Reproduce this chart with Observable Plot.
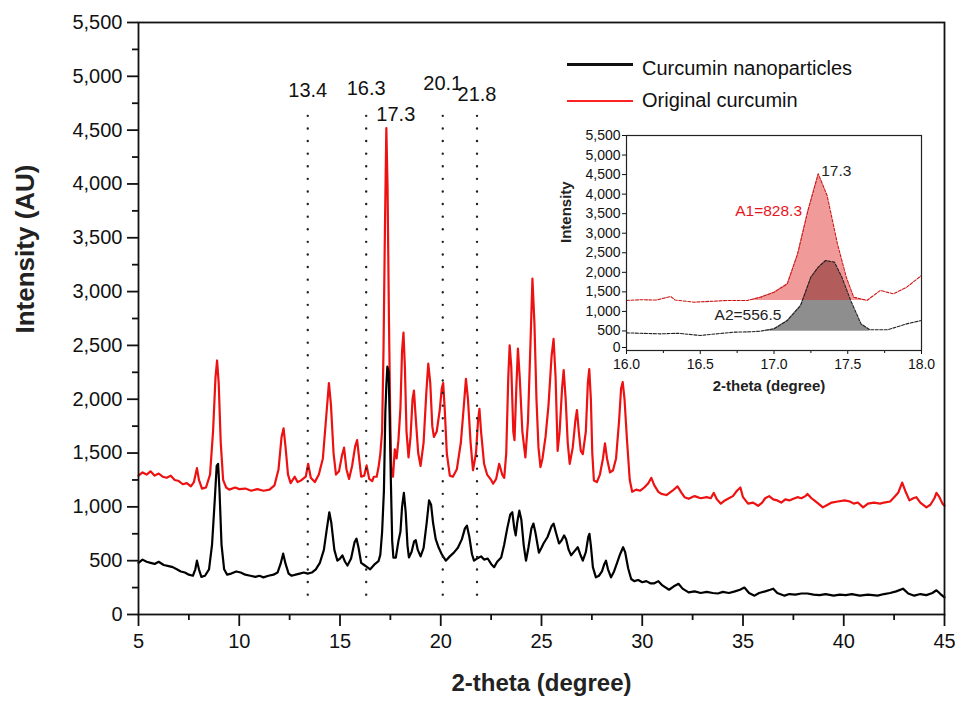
<!DOCTYPE html>
<html>
<head>
<meta charset="utf-8">
<script src="https://cdn.jsdelivr.net/npm/d3@7"></script>
<script src="https://cdn.jsdelivr.net/npm/@observablehq/plot@0.6"></script>
<style>
  html, body { margin: 0; padding: 0; background: #fff; }
  #wrap { position: relative; width: 955px; height: 702px; overflow: hidden; font-family: "Liberation Sans", Arial, sans-serif; color: #111; }
  #wrap svg { display: block; }
  #inset { position: absolute; left: 555px; top: 120px; }
  .leg-line { position: absolute; }
  .leg-text { position: absolute; font-size: 20px; line-height: 24px; white-space: nowrap; }
</style>
</head>
<body>
<div id="wrap">
  <div id="main"></div>
  <div id="inset"></div>
  <div class="leg-line" style="left:567px;top:63px;width:66px;height:3px;background:#111;"></div>
  <div class="leg-text" style="left:642px;top:56px;">Curcumin nanoparticles</div>
  <div class="leg-line" style="left:567px;top:100px;width:66px;height:2px;background:#f22;"></div>
  <div class="leg-text" style="left:642px;top:88px;">Original curcumin</div>
</div>
<script>
// ---------- data (2-theta in degree, intensity in AU) ----------
const originalCurcumin = [
  [5.0,1290],[5.2,1320],[5.4,1300],[5.6,1330],[5.8,1290],[6.0,1310],[6.2,1280],[6.4,1270],[6.6,1290],[6.8,1250],
  [7.0,1240],[7.2,1210],[7.4,1220],[7.6,1190],[7.75,1230],[7.9,1360],[8.0,1250],[8.15,1170],[8.35,1180],[8.55,1300],
  [8.7,1700],[8.82,2200],[8.9,2360],[8.98,2150],[9.08,1600],[9.2,1250],[9.35,1180],[9.5,1160],[9.8,1180],[10.0,1165],
  [10.3,1170],[10.6,1150],[10.9,1165],[11.2,1150],[11.5,1160],[11.75,1200],[11.95,1350],[12.1,1650],[12.2,1730],[12.3,1550],
  [12.42,1300],[12.55,1220],[12.75,1280],[12.9,1230],[13.1,1250],[13.3,1280],[13.42,1400],[13.55,1270],[13.75,1230],[13.95,1300],
  [14.15,1450],[14.3,1800],[14.45,2150],[14.55,1950],[14.68,1500],[14.8,1300],[14.95,1330],[15.1,1480],[15.2,1550],[15.32,1350],
  [15.45,1260],[15.6,1380],[15.75,1560],[15.85,1620],[15.95,1450],[16.05,1280],[16.2,1290],[16.32,1385],[16.45,1260],[16.6,1240],
  [16.68,1280],[16.82,1280],[16.91,1365],[17.0,1490],[17.09,1705],[17.16,2470],[17.23,3580],[17.3,4520],[17.36,3965],[17.43,2730],
  [17.49,1875],[17.54,1365],[17.63,1280],[17.72,1535],[17.81,1450],[17.9,1620],[18.0,1920],[18.08,2450],[18.15,2620],[18.22,2300],
  [18.3,1700],[18.4,1460],[18.5,1650],[18.6,2000],[18.67,2080],[18.75,1850],[18.88,1500],[19.0,1380],[19.15,1600],[19.28,2050],
  [19.38,2330],[19.48,2150],[19.58,1750],[19.66,1650],[19.8,1700],[19.95,1900],[20.05,2100],[20.12,2150],[20.2,1900],[20.3,1500],
  [20.45,1290],[20.6,1280],[20.8,1350],[21.0,1600],[21.15,1950],[21.25,2190],[21.35,2000],[21.48,1600],[21.6,1340],[21.75,1500],
  [21.85,1800],[21.92,1910],[22.0,1700],[22.15,1400],[22.3,1300],[22.5,1250],[22.6,1215],[22.75,1260],[22.9,1400],[23.05,1300],
  [23.15,1270],[23.25,1500],[23.35,2200],[23.42,2500],[23.5,2300],[23.6,1700],[23.66,1620],[23.75,2100],[23.83,2470],[23.92,2200],
  [24.05,1700],[24.2,1460],[24.33,1800],[24.45,2500],[24.55,3120],[24.65,2700],[24.75,2000],[24.85,1550],[24.95,1370],[25.05,1450],
  [25.2,1650],[25.35,1950],[25.5,2400],[25.6,2560],[25.7,2200],[25.8,1520],[25.9,1700],[26.02,2100],[26.1,2270],[26.2,2000],
  [26.3,1600],[26.4,1400],[26.55,1550],[26.68,1800],[26.76,1900],[26.85,1700],[26.95,1520],[27.05,1490],[27.2,1700],[27.3,2150],
  [27.37,2280],[27.45,2000],[27.52,1500],[27.6,1245],[27.75,1230],[27.9,1300],[28.05,1450],[28.15,1590],[28.25,1450],[28.4,1320],
  [28.55,1340],[28.7,1450],[28.85,1800],[28.95,2100],[29.03,2160],[29.12,2000],[29.25,1600],[29.38,1250],[29.5,1140],[29.7,1160],
  [29.9,1150],[30.1,1180],[30.3,1220],[30.45,1270],[30.6,1200],[30.8,1140],[30.95,1120],[31.2,1110],[31.5,1150],[31.75,1190],
  [31.95,1130],[32.1,1090],[32.3,1075],[32.6,1100],[32.9,1080],[33.2,1090],[33.4,1080],[33.55,1130],[33.7,1070],[33.9,1030],
  [34.1,1060],[34.3,1080],[34.5,1100],[34.7,1150],[34.87,1180],[35.0,1090],[35.25,1030],[35.5,1040],[35.75,1010],[35.95,1040],
  [36.1,1080],[36.3,1100],[36.5,1070],[36.7,1060],[36.9,1040],[37.1,1070],[37.3,1060],[37.5,1075],[37.7,1090],[37.9,1080],
  [38.1,1100],[38.2,1120],[38.4,1080],[38.6,1050],[38.8,1020],[38.96,995],[39.2,1020],[39.4,1040],[39.7,1050],[40.05,1060],
  [40.3,1050],[40.5,1030],[40.7,1040],[40.96,995],[41.2,1030],[41.5,1040],[41.8,1030],[42.0,1040],[42.3,1050],[42.5,1090],
  [42.7,1130],[42.9,1225],[43.05,1150],[43.26,1060],[43.45,1080],[43.6,1090],[43.8,1040],[44.1,995],[44.3,1020],[44.5,1080],
  [44.6,1130],[44.75,1090],[44.9,1030],[45.0,1010]
];
const curcuminNanoparticles = [
  [5.0,480],[5.2,510],[5.4,490],[5.6,480],[5.8,470],[6.0,490],[6.25,460],[6.5,450],[6.7,440],[6.9,420],
  [7.1,400],[7.3,390],[7.5,370],[7.7,360],[7.82,420],[7.9,500],[8.0,420],[8.12,350],[8.3,360],[8.5,420],
  [8.65,650],[8.78,1050],[8.88,1380],[8.95,1400],[9.02,1150],[9.12,650],[9.25,420],[9.4,370],[9.6,380],[9.85,400],
  [10.07,390],[10.3,370],[10.55,360],[10.8,350],[11.0,360],[11.2,345],[11.45,360],[11.7,370],[11.9,390],[12.05,470],
  [12.18,565],[12.3,470],[12.45,380],[12.6,360],[12.8,370],[13.0,380],[13.2,390],[13.4,380],[13.6,390],[13.8,420],
  [14.0,480],[14.2,600],[14.35,800],[14.47,950],[14.57,850],[14.72,600],[14.87,500],[15.0,520],[15.12,550],[15.25,490],
  [15.37,455],[15.55,520],[15.72,670],[15.82,705],[15.92,620],[16.05,480],[16.2,460],[16.35,440],[16.5,420],[16.73,469],
  [16.91,495],[17.0,554],[17.09,767],[17.18,1151],[17.25,1876],[17.3,2132],[17.35,2302],[17.41,2260],[17.46,1876],[17.52,1279],
  [17.59,682],[17.65,529],[17.77,529],[17.9,682],[18.0,770],[18.08,1000],[18.17,1130],[18.26,950],[18.35,640],[18.42,530],
  [18.55,580],[18.68,680],[18.76,690],[18.86,600],[19.0,540],[19.15,620],[19.3,850],[19.42,1060],[19.52,1020],[19.62,850],
  [19.75,700],[19.9,620],[20.05,560],[20.25,500],[20.45,540],[20.65,575],[20.85,620],[21.05,700],[21.2,800],[21.3,825],
  [21.42,720],[21.55,560],[21.65,500],[21.8,520],[22.0,540],[22.15,510],[22.33,520],[22.5,470],[22.65,440],[22.8,490],
  [23.0,530],[23.15,650],[23.3,800],[23.45,930],[23.55,950],[23.65,800],[23.72,735],[23.8,860],[23.9,965],[24.0,880],
  [24.12,640],[24.23,500],[24.35,620],[24.5,800],[24.6,845],[24.7,760],[24.87,575],[25.0,620],[25.1,660],[25.3,720],
  [25.5,820],[25.6,845],[25.72,760],[25.87,660],[26.0,690],[26.12,735],[26.22,700],[26.35,600],[26.47,550],[26.6,580],
  [26.8,625],[26.92,560],[27.05,500],[27.2,580],[27.32,720],[27.38,750],[27.45,640],[27.55,440],[27.7,345],[27.85,360],
  [28.0,400],[28.12,470],[28.2,500],[28.3,420],[28.45,345],[28.6,400],[28.75,480],[28.9,560],[29.05,625],[29.15,580],
  [29.3,430],[29.45,330],[29.6,310],[29.8,320],[30.0,300],[30.2,310],[30.4,290],[30.6,290],[30.8,310],[31.0,270],
  [31.33,230],[31.55,260],[31.8,285],[32.0,240],[32.3,205],[32.6,215],[32.9,200],[33.2,210],[33.5,200],[33.75,195],
  [34.0,210],[34.3,200],[34.6,215],[34.85,230],[35.07,250],[35.3,200],[35.57,175],[35.8,200],[36.1,215],[36.35,230],
  [36.5,240],[36.7,200],[37.06,175],[37.3,190],[37.6,185],[37.9,195],[38.2,195],[38.5,185],[38.8,180],[39.1,190],
  [39.5,175],[39.8,185],[40.1,180],[40.4,190],[40.8,175],[41.2,185],[41.68,175],[42.0,190],[42.3,200],[42.6,215],
  [42.94,240],[43.2,195],[43.5,175],[43.8,190],[44.1,180],[44.4,200],[44.6,225],[44.8,190],[45.0,160]
];
// inset (zoom on the 17.3 peak)
const insetOriginal = [
  [16.0,1280],[16.1,1300],[16.2,1290],[16.3,1380],[16.33,1290],[16.46,1236],[16.58,1260],[16.68,1280],[16.82,1280],[16.91,1365],
  [17.0,1490],[17.09,1705],[17.16,2470],[17.23,3580],[17.3,4520],[17.36,3965],[17.43,2730],[17.49,1875],[17.54,1365],[17.63,1280],
  [17.72,1535],[17.81,1450],[17.9,1620],[18.0,1920]
];
const insetNano = [
  [16.0,452],[16.1,440],[16.23,426],[16.35,440],[16.5,384],[16.62,430],[16.73,469],[16.85,480],[16.91,495],[17.0,554],
  [17.09,767],[17.18,1151],[17.25,1876],[17.3,2132],[17.35,2302],[17.41,2260],[17.46,1876],[17.52,1279],[17.59,682],[17.65,529],
  [17.77,529],[17.9,682],[18.0,767]
];
const peakLines = [13.4, 16.3, 20.1, 21.8];
const mainPeak = 17.3;
const areaLabels = ["A1=828.3", "A2=556.5"];
const legendNames = ["Curcumin nanoparticles", "Original curcumin"];

const xTicks = [5, 10, 15, 20, 25, 30, 35, 40, 45];
const xMinor = [7.5, 12.5, 17.5, 22.5, 27.5, 32.5, 37.5, 42.5];
const yTicks = d3.range(0, 5501, 500);
const yMinor = d3.range(250, 5500, 500);
const insetXTicks = [16.0, 16.5, 17.0, 17.5, 18.0];
const insetXMinor = [16.25, 16.75, 17.25, 17.75];

const FONT = "'Liberation Sans', Arial, Helvetica, sans-serif";
const X = d => d[0], Y = d => d[1];

// ---------- main chart ----------
const main = Plot.plot({
  width: 955, height: 702,
  marginLeft: 138, marginRight: 11, marginTop: 22, marginBottom: 88,
  style: {fontFamily: FONT, fontSize: "20px", color: "#111", background: "transparent", overflow: "visible"},
  x: {domain: [5, 45]},
  y: {domain: [0, 5500]},
  marks: [
    Plot.line(originalCurcumin, {x: X, y: Y, stroke: "#ee1111", strokeWidth: 2.2, strokeLinejoin: "round"}),
    Plot.line(curcuminNanoparticles, {x: X, y: Y, stroke: "#000", strokeWidth: 2.2, strokeLinejoin: "round"}),
    Plot.ruleX(peakLines, {x: d => d, y1: 180, y2: 4720, stroke: "#222", strokeWidth: 2.4, strokeLinecap: "round", strokeDasharray: "0,12.6"}),
    Plot.text(peakLines, {x: d => d, y: (d, i) => [4870, 4890, 4935, 4830][i], text: d => d.toFixed(1), fontSize: 20, fill: "#111"}),
    Plot.text([mainPeak], {x: d => d, y: 4640, text: d => d.toFixed(1), textAnchor: "start", dx: -10, fontSize: 20, fill: "#111"}),
    Plot.axisY({ticks: yTicks, tickSize: 11, tickPadding: 5, tickFormat: d3.format(","), label: null, strokeWidth: 1.8, fontSize: 20}),
    Plot.axisY({ticks: yMinor, tickSize: 6, tickFormat: () => "", label: null, strokeWidth: 1.8}),
    Plot.axisX({ticks: xTicks, tickSize: 12, tickPadding: 7, tickFormat: d => String(d), label: null, strokeWidth: 1.8, fontSize: 20}),
    Plot.axisX({ticks: xMinor, tickSize: 6, tickFormat: () => "", label: null, strokeWidth: 1.8}),
    Plot.frame({stroke: "#111", strokeWidth: 1.8}),
    Plot.text(["Intensity (AU)"], {frameAnchor: "left", rotate: -90, dx: -113, dy: 15, text: d => d, fontSize: 26, fontWeight: "bold", fill: "#222", ariaLabel: "ytitle"}),
    Plot.text(["2-theta (degree)"], {frameAnchor: "bottom", dx: 0, dy: 76, text: d => d, fontSize: 24, fontWeight: "bold", fill: "#222", ariaLabel: "xtitle"})
  ]
});
document.getElementById("main").appendChild(main);
d3.select(main).select('g[aria-label="ytitle"] text').attr("textLength", 203).attr("lengthAdjust", "spacingAndGlyphs");
d3.select(main).select('g[aria-label="xtitle"] text').attr("textLength", 197).attr("lengthAdjust", "spacingAndGlyphs");

// ---------- inset ----------
const inset = Plot.plot({
  width: 380, height: 280,
  marginLeft: 71, marginRight: 14, marginTop: 15, marginBottom: 50,
  style: {fontFamily: FONT, fontSize: "14px", color: "#111", background: "transparent", overflow: "visible"},
  x: {domain: [16, 18]},
  y: {domain: [0, 5500]},
  marks: [
    Plot.areaY(insetNano, {filter: d => d[0] >= 16.91 && d[0] <= 17.65, x: X, y1: 495, y2: Y, fill: "#888", fillOpacity: 0.95}),
    Plot.areaY(insetOriginal, {filter: d => d[0] >= 16.82 && d[0] <= 17.63, x: X, y1: 1280, y2: d => Math.max(d[1], 1280), fill: "#e02020", fillOpacity: 0.45}),
    Plot.line(insetOriginal, {x: X, y: Y, stroke: "#cc1515", strokeWidth: 1.1, strokeDasharray: "3,1.5"}),
    Plot.line(insetNano, {x: X, y: Y, stroke: "#222", strokeWidth: 1.1, strokeDasharray: "3,1.5"}),
    Plot.text([mainPeak], {x: d => d + 0.02, y: 4600, text: d => d.toFixed(1), textAnchor: "start", fontSize: 15.5, fill: "#222"}),
    Plot.text([areaLabels[0]], {x: 17.19, y: 3580, text: d => d, textAnchor: "end", fontSize: 15.5, fill: "#e8141c"}),
    Plot.text([areaLabels[1]], {x: 17.05, y: 920, text: d => d, textAnchor: "end", fontSize: 15.5, fill: "#222"}),
    Plot.axisY({ticks: yTicks.slice(1), tickSize: 4, tickPadding: 2, tickFormat: d3.format(","), label: null, fontSize: 14}),
    Plot.axisY({ticks: yTicks.slice(0, 1), tickSize: 4, tickPadding: 2, tickFormat: d3.format(","), label: null, fontSize: 14, dy: -3}),
    Plot.axisX({ticks: insetXTicks, tickSize: 4, tickPadding: 5, tickFormat: d3.format(".1f"), label: null, fontSize: 14}),
    Plot.axisX({ticks: insetXMinor, tickSize: 3, tickFormat: () => "", label: null}),
    Plot.frame({stroke: "#222", strokeWidth: 1.2}),
    Plot.text(["Intensity"], {frameAnchor: "left", rotate: -90, dx: -60, dy: 0, text: d => d, fontSize: 15, fontWeight: "bold", fill: "#222"}),
    Plot.text(["2-theta (degree)"], {frameAnchor: "bottom", dx: -5, dy: 40, text: d => d, fontSize: 15, fontWeight: "bold", fill: "#222"})
  ]
});
document.getElementById("inset").appendChild(inset);
</script>
</body>
</html>
